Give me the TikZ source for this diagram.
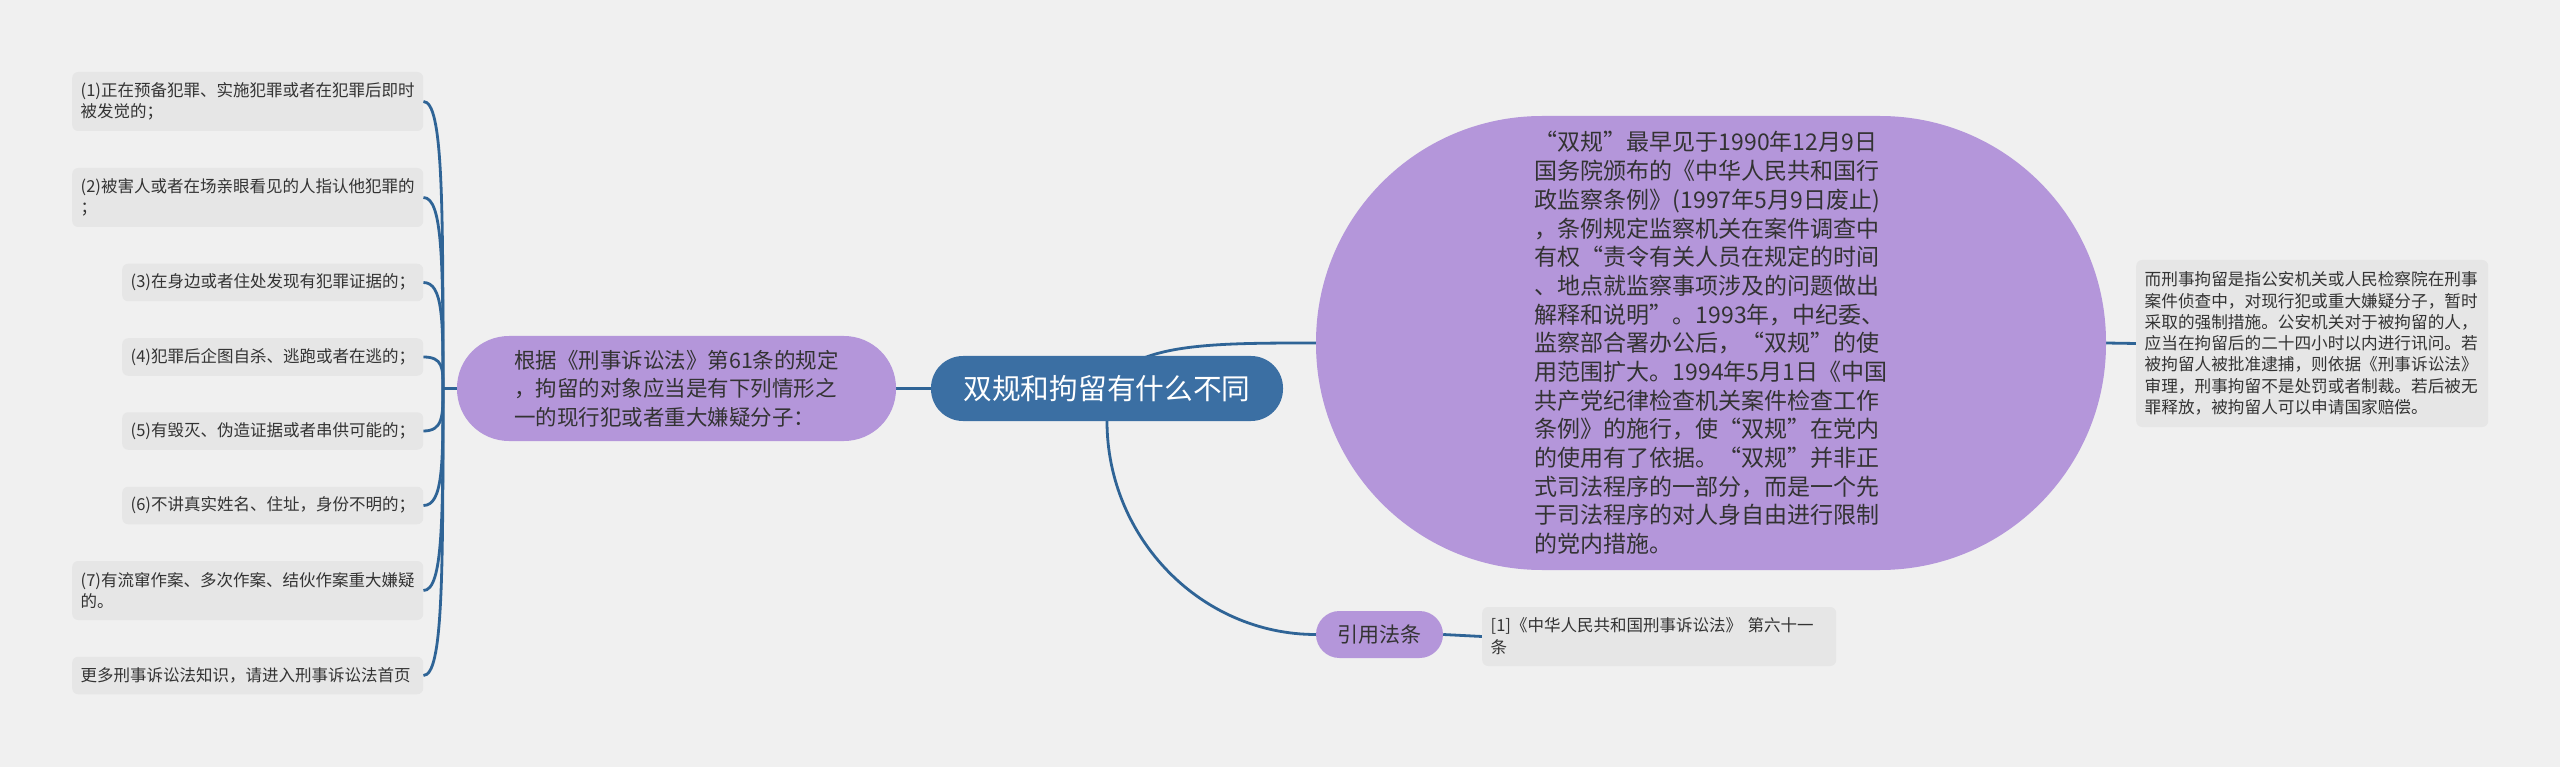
\documentclass[tikz,border=0pt]{standalone}
\usepackage{fontspec}
\setmainfont{Noto Sans CJK SC}
\usetikzlibrary{calc}
\definecolor{bgc}{HTML}{F0F0F0}
\definecolor{boxc}{HTML}{E6E6E6}
\definecolor{purp}{HTML}{B496DA}
\definecolor{blu}{HTML}{3B6FA3}
\definecolor{linec}{HTML}{2F6496}
\definecolor{txt}{HTML}{333333}
\pgfdeclarelayer{bg}
\pgfsetlayers{bg,main}
\newcommand\lqm{\makebox[1em][r]{“}}
\newcommand\rqm{\makebox[1em][l]{”}}
\begin{document}
\begin{tikzpicture}[x=1pt,y=-1pt,
  leaf/.style={fill=boxc, rounded corners=6pt, anchor=west, inner xsep=8.5pt, inner ysep=0pt,
    align=left, text=txt, font=\fontsize{16.5}{20.5}\selectfont},
  wide/.style={leaf, text width=334pt, minimum height=59pt},
  narrow/.style={leaf, text width=284pt, minimum height=37.5pt},
  purpnode/.style={fill=purp, text=txt, inner sep=0pt, align=left},
  link/.style={draw=linec, line width=2.8pt}]
\useasboundingbox (0,0) rectangle (2560,767);
\begin{pgfonlayer}{bg}
\fill[bgc] (0,0) rectangle (2560,767);
\end{pgfonlayer}

% left leaves
\node[wide] (b1) at (72,101.5) {(1)正在预备犯罪、实施犯罪或者在犯罪后即时\\被发觉的；};
\node[wide] (b2) at (72,197.5) {(2)被害人或者在场亲眼看见的人指认他犯罪的\\；};
\node[narrow] (b3) at (122,282.5) {(3)在身边或者住处发现有犯罪证据的；};
\node[narrow] (b4) at (122,357) {(4)犯罪后企图自杀、逃跑或者在逃的；};
\node[narrow] (b5) at (122,431) {(5)有毁灭、伪造证据或者串供可能的；};
\node[narrow] (b6) at (122,505.5) {(6)不讲真实姓名、住址，身份不明的；};
\node[wide] (b7) at (72,590.5) {(7)有流窜作案、多次作案、结伙作案重大嫌疑\\的。};
\node[wide, minimum height=37.5pt] (b8) at (72,675.5) {更多刑事诉讼法知识，请进入刑事诉讼法首页};

% left purple
\node[purpnode, rounded corners=52pt, minimum width=439pt, minimum height=105pt,
  font=\fontsize{21.5}{28.5}\selectfont] (L) at (676.5,388.5)
  {根据《刑事诉讼法》第61条的规定\\，拘留的对象应当是有下列情形之\\一的现行犯或者重大嫌疑分子：};

% center
\node[fill=blu, text=white, rounded corners=32pt, minimum width=352pt, minimum height=65pt,
  inner sep=0pt, font=\fontsize{28.7}{34}\selectfont] (C) at (1107,388.5) {双规和拘留有什么不同};

% big purple
\node[purpnode, rounded corners=226pt, minimum width=790pt, minimum height=454pt,
  font=\fontsize{23}{28.7}\selectfont] (B) at (1711,343)
  {\lqm 双规\rqm 最早见于1990年12月9日\\
   国务院颁布的《中华人民共和国行\\
   政监察条例》(1997年5月9日废止)\\
   ，条例规定监察机关在案件调查中\\
   有权\lqm 责令有关人员在规定的时间\\
   、地点就监察事项涉及的问题做出\\
   解释和说明\rqm 。1993年，中纪委、\\
   监察部合署办公后，\lqm 双规\rqm 的使\\
   用范围扩大。1994年5月1日《中国\\
   共产党纪律检查机关案件检查工作\\
   条例》的施行，使\lqm 双规\rqm 在党内\\
   的使用有了依据。\lqm 双规\rqm 并非正\\
   式司法程序的一部分，而是一个先\\
   于司法程序的对人身自由进行限制\\
   的党内措施。};

% right box
\node[leaf, text width=335pt, minimum height=167pt, font=\fontsize{16.65}{21.3}\selectfont] (R) at (2136,343.5)
  {而刑事拘留是指公安机关或人民检察院在刑事\\
   案件侦查中，对现行犯或重大嫌疑分子，暂时\\
   采取的强制措施。公安机关对于被拘留的人，\\
   应当在拘留后的二十四小时以内进行讯问。若\\
   被拘留人被批准逮捕，则依据《刑事诉讼法》\\
   审理，刑事拘留不是处罚或者制裁。若后被无\\
   罪释放，被拘留人可以申请国家赔偿。};

% bottom
\node[purpnode, rounded corners=23.5pt, minimum width=127pt, minimum height=47pt,
  font=\fontsize{21}{26}\selectfont] (Q) at (1379.5,634.5) {引用法条};
\node[leaf, text width=337pt, minimum height=59pt, font=\fontsize{16.5}{22}\selectfont] (F) at (1482,636.5)
  {[1]《中华人民共和国刑事诉讼法》 第六十一\\条};

\begin{pgfonlayer}{bg}
\coordinate (J) at (443,388.5);
\draw[link] (L.west) -- (J);
\foreach \n in {b1,b2,b3,b4,b5,b6,b7,b8}
  \draw[link] (\n.east) .. controls (\n.east -| J) and ($(\n.east -| J)!0.35!(J)$) .. (J);
\draw[link] (C.west) -- (L.east);
\draw[link] (C.center) .. controls (1130,343) and (1210,343) .. (B.west);
\draw[link] (B.east) -- (R.west);
\draw[link] (C.south) .. controls (1107,538) and (1201,634.5) .. (Q.west);
\draw[link] (Q.east) -- (F.west);
\end{pgfonlayer}
\end{tikzpicture}
\end{document}
